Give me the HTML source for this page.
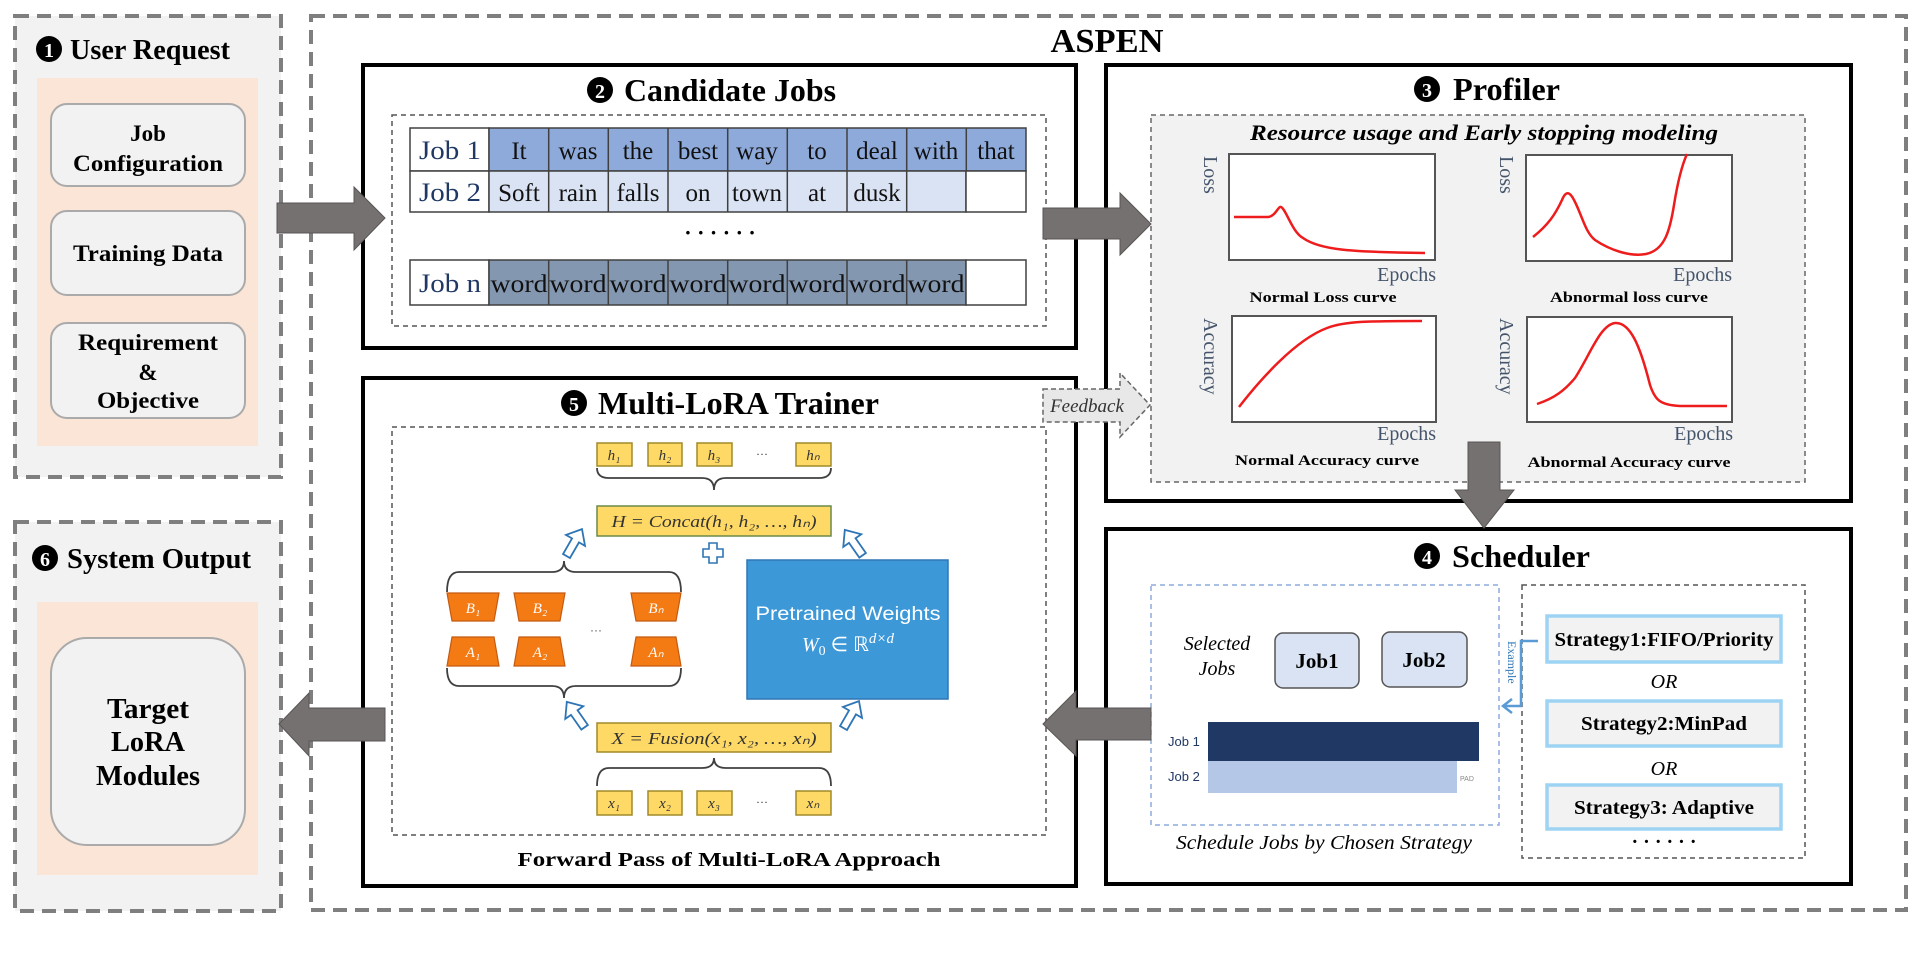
<!DOCTYPE html>
<html><head><meta charset="utf-8"><style>
html,body{margin:0;padding:0;background:#fff;width:1918px;height:957px;overflow:hidden}
svg{display:block}
.t{font-family:"Liberation Serif",serif}
.b{font-weight:bold}
.s{font-family:"Liberation Sans",sans-serif}
</style></head><body>
<svg width="1918" height="957" viewBox="0 0 1918 957" xmlns="http://www.w3.org/2000/svg">
<defs>
<g id="hollow"><polygon points="0,-16 11,-3 4,-3 4,15 -4,15 -4,-3 -11,-3" fill="#fff" stroke="#2e75b6" stroke-width="1.8"/></g>
</defs>

<!-- User Request -->
<rect x="15" y="16" width="266" height="461" fill="#f2f2f2" stroke="#7f7f7f" stroke-width="4" stroke-dasharray="14,8"/>
<circle cx="49" cy="49" r="13" fill="#000"/><text x="49" y="57" class="t b" font-size="20" fill="#fff" text-anchor="middle">1</text>
<text x="70" y="59" class="t b" font-size="28" textLength="160" lengthAdjust="spacingAndGlyphs">User Request</text>
<rect x="37" y="78" width="221" height="368" fill="#fbe5d6"/>
<rect x="51" y="104" width="194" height="82" rx="16" fill="#f2f2f2" stroke="#aaa" stroke-width="2"/>
<rect x="51" y="211" width="194" height="84" rx="16" fill="#f2f2f2" stroke="#aaa" stroke-width="2"/>
<rect x="51" y="323" width="194" height="95" rx="16" fill="#f2f2f2" stroke="#aaa" stroke-width="2"/>
<g class="t b" font-size="23" text-anchor="middle">
<text x="148" y="141">Job</text><text x="148" y="171" textLength="150" lengthAdjust="spacingAndGlyphs">Configuration</text>
<text x="148" y="261" textLength="150" lengthAdjust="spacingAndGlyphs">Training Data</text>
<text x="148" y="350" textLength="140" lengthAdjust="spacingAndGlyphs">Requirement</text><text x="148" y="380">&amp;</text><text x="148" y="408" textLength="102" lengthAdjust="spacingAndGlyphs">Objective</text>
</g>

<!-- System Output -->
<rect x="15" y="522" width="266" height="389" fill="#f2f2f2" stroke="#7f7f7f" stroke-width="4" stroke-dasharray="14,8"/>
<circle cx="45" cy="558" r="13" fill="#000"/><text x="45" y="566" class="t b" font-size="20" fill="#fff" text-anchor="middle">6</text>
<text x="67" y="568" class="t b" font-size="28" textLength="184" lengthAdjust="spacingAndGlyphs">System Output</text>
<rect x="37" y="602" width="221" height="273" fill="#fbe5d6"/>
<rect x="51" y="638" width="194" height="207" rx="36" fill="#f2f2f2" stroke="#aaa" stroke-width="2"/>
<g class="t b" font-size="28" text-anchor="middle">
<text x="148" y="718" textLength="82" lengthAdjust="spacingAndGlyphs">Target</text>
<text x="148" y="751" textLength="74" lengthAdjust="spacingAndGlyphs">LoRA</text>
<text x="148" y="785" textLength="104" lengthAdjust="spacingAndGlyphs">Modules</text>
</g>

<!-- ASPEN -->
<rect x="311" y="16" width="1595" height="894" fill="none" stroke="#7f7f7f" stroke-width="4" stroke-dasharray="14,8"/>
<text x="1107" y="52" class="t b" font-size="34" text-anchor="middle" textLength="113" lengthAdjust="spacingAndGlyphs">ASPEN</text>

<!-- Candidate Jobs -->
<rect x="363" y="65" width="713" height="283" fill="#fff" stroke="#000" stroke-width="4"/>
<circle cx="600" cy="90" r="13" fill="#000"/><text x="600" y="98" class="t b" font-size="20" fill="#fff" text-anchor="middle">2</text>
<text x="624" y="101" class="t b" font-size="32" textLength="212" lengthAdjust="spacingAndGlyphs">Candidate Jobs</text>
<rect x="392" y="115" width="654" height="211" fill="none" stroke="#555" stroke-width="1.5" stroke-dasharray="5,4"/>
<g stroke="#404040" stroke-width="1.5">
<rect x="410" y="128" width="79" height="43" fill="#fff"/>
<rect x="410" y="171" width="79" height="41" fill="#fff"/>
<rect x="410" y="260" width="79" height="45" fill="#fff"/>
</g>
<g stroke="#404040" stroke-width="1.5">
<rect x="489" y="128" width="537" height="43" fill="#8eaadb"/>
<rect x="489" y="171" width="477" height="41" fill="#dae3f3"/>
<rect x="966" y="171" width="60" height="41" fill="#fff"/>
<rect x="489" y="260" width="477" height="45" fill="#8497b0"/>
<rect x="966" y="260" width="60" height="45" fill="#fff"/>
<path d="M548.7,128V212M608.3,128V212M668,128V212M727.7,128V212M787.3,128V212M847,128V212M906.7,128V212M966.3,128V171M548.7,260V305M608.3,260V305M668,260V305M727.7,260V305M787.3,260V305M847,260V305M906.7,260V305" fill="none"/>
</g>
<g class="t" font-size="26" fill="#1f3864" text-anchor="middle">
<text x="450" y="159" textLength="62" lengthAdjust="spacingAndGlyphs">Job 1</text>
<text x="450" y="201" textLength="62" lengthAdjust="spacingAndGlyphs">Job 2</text>
<text x="450" y="292" textLength="62" lengthAdjust="spacingAndGlyphs">Job n</text>
</g>
<g class="t" font-size="25" text-anchor="middle" fill="#111">
<text x="519" y="159">It</text><text x="578" y="159">was</text><text x="638" y="159">the</text><text x="698" y="159">best</text><text x="757" y="159">way</text><text x="817" y="159">to</text><text x="877" y="159">deal</text><text x="936" y="159">with</text><text x="996" y="159">that</text>
<text x="519" y="201">Soft</text><text x="578" y="201">rain</text><text x="638" y="201">falls</text><text x="698" y="201">on</text><text x="757" y="201">town</text><text x="817" y="201">at</text><text x="877" y="201">dusk</text>
</g>
<g class="t" font-size="25" text-anchor="middle" fill="#111">
<text x="519" y="292" textLength="57" lengthAdjust="spacingAndGlyphs">word</text><text x="578" y="292" textLength="57" lengthAdjust="spacingAndGlyphs">word</text><text x="638" y="292" textLength="57" lengthAdjust="spacingAndGlyphs">word</text><text x="698" y="292" textLength="57" lengthAdjust="spacingAndGlyphs">word</text><text x="757" y="292" textLength="57" lengthAdjust="spacingAndGlyphs">word</text><text x="817" y="292" textLength="57" lengthAdjust="spacingAndGlyphs">word</text><text x="877" y="292" textLength="57" lengthAdjust="spacingAndGlyphs">word</text><text x="936" y="292" textLength="57" lengthAdjust="spacingAndGlyphs">word</text>
</g>
<text x="720" y="240" class="t b" font-size="22" text-anchor="middle">· · · · · ·</text>

<!-- Profiler -->
<rect x="1106" y="65" width="745" height="436" fill="#fff" stroke="#000" stroke-width="4"/>
<circle cx="1427" cy="89" r="13" fill="#000"/><text x="1427" y="97" class="t b" font-size="20" fill="#fff" text-anchor="middle">3</text>
<text x="1453" y="100" class="t b" font-size="32" textLength="107" lengthAdjust="spacingAndGlyphs">Profiler</text>
<rect x="1151" y="115" width="654" height="367" fill="#f2f2f2" stroke="#666" stroke-width="1.5" stroke-dasharray="5,4"/>
<text x="1484" y="140" class="t b" font-style="italic" font-size="22" text-anchor="middle" textLength="468" lengthAdjust="spacingAndGlyphs">Resource usage and Early stopping modeling</text>
<g fill="#fff" stroke="#555" stroke-width="2">
<rect x="1229" y="154" width="206" height="106"/>
<rect x="1526" y="155" width="206" height="106"/>
<rect x="1232" y="316" width="204" height="106"/>
<rect x="1527" y="317" width="205" height="105"/>
</g>
<g fill="none" stroke="#ee1c1c" stroke-width="2.5">
<path d="M1234,217 L1268,217 C1276,216 1278,206 1281,207 C1286,209 1292,232 1303,238 C1320,250 1350,252 1425,253"/>
<path d="M1533,237 C1548,225 1555,215 1562,200 C1566,190 1570,192 1574,200 C1582,215 1585,232 1595,240 C1610,250 1630,257 1646,254 C1665,250 1670,230 1674,205 C1678,180 1682,165 1687,154"/>
<path d="M1239,407 C1260,380 1295,340 1327,328 C1345,321 1370,321 1422,321"/>
<path d="M1537,404 C1555,398 1565,390 1575,378 C1590,355 1600,325 1615,323 C1630,322 1640,345 1650,385 C1655,400 1660,405 1680,406 L1727,406"/>
</g>
<g class="t" fill="#44546a" font-size="20">
<text x="1436" y="281" text-anchor="end">Epochs</text>
<text x="1732" y="281" text-anchor="end">Epochs</text>
<text x="1436" y="440" text-anchor="end">Epochs</text>
<text x="1733" y="440" text-anchor="end">Epochs</text>
<text transform="translate(1204,156) rotate(90)" font-size="20">Loss</text>
<text transform="translate(1500,156) rotate(90)" font-size="20">Loss</text>
<text transform="translate(1204,318) rotate(90)" font-size="20">Accuracy</text>
<text transform="translate(1500,318) rotate(90)" font-size="20">Accuracy</text>
</g>
<g class="t b" font-size="15" text-anchor="middle">
<text x="1323" y="302" textLength="147" lengthAdjust="spacingAndGlyphs">Normal Loss curve</text>
<text x="1629" y="302" textLength="158" lengthAdjust="spacingAndGlyphs">Abnormal loss curve</text>
<text x="1327" y="465" textLength="184" lengthAdjust="spacingAndGlyphs">Normal Accuracy curve</text>
<text x="1629" y="467" textLength="203" lengthAdjust="spacingAndGlyphs">Abnormal Accuracy curve</text>
</g>

<!-- Scheduler -->
<rect x="1106" y="529" width="745" height="355" fill="#fff" stroke="#000" stroke-width="4"/>
<circle cx="1427" cy="556" r="13" fill="#000"/><text x="1427" y="564" class="t b" font-size="20" fill="#fff" text-anchor="middle">4</text>
<text x="1452" y="567" class="t b" font-size="32" textLength="138" lengthAdjust="spacingAndGlyphs">Scheduler</text>
<rect x="1151" y="585" width="348" height="240" fill="#fff" stroke="#8eaadb" stroke-width="1.5" stroke-dasharray="5,4"/>
<text x="1217" y="650" class="t" font-style="italic" font-size="20" text-anchor="middle">Selected</text>
<text x="1217" y="675" class="t" font-style="italic" font-size="20" text-anchor="middle">Jobs</text>
<rect x="1275" y="633" width="84" height="55" rx="8" fill="#dae3f3" stroke="#555" stroke-width="1.5"/>
<rect x="1382" y="632" width="85" height="55" rx="8" fill="#dae3f3" stroke="#555" stroke-width="1.5"/>
<text x="1317" y="668" class="t b" font-size="21" text-anchor="middle">Job1</text>
<text x="1424" y="667" class="t b" font-size="21" text-anchor="middle">Job2</text>
<rect x="1208" y="722" width="271" height="39" fill="#203864"/>
<rect x="1208" y="761" width="249" height="32" fill="#b4c7e7"/>
<text x="1168" y="746" class="s" font-size="13" fill="#1f3864">Job 1</text>
<text x="1168" y="781" class="s" font-size="13" fill="#1f3864">Job 2</text>
<text x="1460" y="781" class="s" font-size="7" fill="#888">PAD</text>
<text x="1324" y="849" class="t" font-style="italic" font-size="20" text-anchor="middle" textLength="296" lengthAdjust="spacingAndGlyphs">Schedule Jobs by Chosen Strategy</text>
<rect x="1522" y="585" width="283" height="273" fill="#fff" stroke="#555" stroke-width="1.5" stroke-dasharray="5,4"/>
<g fill="#f2f2f2" stroke="#9dd3f3" stroke-width="3.5">
<rect x="1547" y="616" width="234" height="46"/>
<rect x="1547" y="701" width="234" height="45"/>
<rect x="1547" y="785" width="234" height="44"/>
</g>
<g class="t b" font-size="20" text-anchor="middle">
<text x="1664" y="646" textLength="219" lengthAdjust="spacingAndGlyphs">Strategy1:FIFO/Priority</text>
<text x="1664" y="730" textLength="166" lengthAdjust="spacingAndGlyphs">Strategy2:MinPad</text>
<text x="1664" y="814" textLength="180" lengthAdjust="spacingAndGlyphs">Strategy3: Adaptive</text>
</g>
<text x="1664" y="688" class="t" font-style="italic" font-size="20" text-anchor="middle">OR</text>
<text x="1664" y="775" class="t" font-style="italic" font-size="20" text-anchor="middle">OR</text>
<text x="1664" y="848" class="t b" font-size="20" text-anchor="middle">· · · · · ·</text>
<path d="M1538,641 H1521 V706 H1504 M1512,699 L1503,706 L1512,713" fill="none" stroke="#5b9bd5" stroke-width="2.5"/>
<text transform="translate(1508,641) rotate(90)" class="t" font-size="12" fill="#2e75b6">Example</text>

<!-- Multi-LoRA Trainer -->
<rect x="363" y="378" width="713" height="508" fill="#fff" stroke="#000" stroke-width="4"/>
<circle cx="574" cy="403" r="13" fill="#000"/><text x="574" y="411" class="t b" font-size="20" fill="#fff" text-anchor="middle">5</text>
<text x="598" y="414" class="t b" font-size="32" textLength="281" lengthAdjust="spacingAndGlyphs">Multi-LoRA Trainer</text>
<rect x="392" y="427" width="654" height="408" fill="#fff" stroke="#555" stroke-width="1.5" stroke-dasharray="5,4"/>
<text x="729" y="866" class="t b" font-size="20" text-anchor="middle" textLength="423" lengthAdjust="spacingAndGlyphs">Forward Pass of Multi-LoRA Approach</text>
<g fill="#ffd966" stroke="#a08a2a" stroke-width="1.5">
<rect x="597" y="443" width="35" height="23"/><rect x="648" y="443" width="34" height="23"/><rect x="697" y="443" width="35" height="23"/><rect x="796" y="443" width="35" height="23"/>
<rect x="597" y="506" width="234" height="30" stroke="#6a8a4a"/>
<rect x="597" y="723" width="234" height="29"/>
<rect x="597" y="791" width="35" height="24"/><rect x="648" y="791" width="34" height="24"/><rect x="697" y="791" width="35" height="24"/><rect x="796" y="791" width="35" height="24"/>
</g>
<g class="t" font-style="italic" font-size="15" fill="#333" text-anchor="middle">
<text x="614" y="460">h₁</text><text x="665" y="460">h₂</text><text x="714" y="460">h₃</text><text x="813" y="460">hₙ</text>
<text x="614" y="808">x₁</text><text x="665" y="808">x₂</text><text x="714" y="808">x₃</text><text x="813" y="808">xₙ</text>
<text x="762" y="458" font-style="normal" font-size="12">···</text><text x="762" y="806" font-style="normal" font-size="12">···</text>
<text x="714" y="527" font-size="17" textLength="205" lengthAdjust="spacingAndGlyphs">H = Concat(h₁, h₂, …, hₙ)</text>
<text x="714" y="744" font-size="17" textLength="205" lengthAdjust="spacingAndGlyphs">X = Fusion(x₁, x₂, …, xₙ)</text>
</g>
<g fill="none" stroke="#404040" stroke-width="1.8">
<path d="M597,468 q0,10 12,10 h93 q12,0 12,12 q0,-12 12,-12 h93 q12,0 12,-10"/>
<path d="M447,592 q0,-20 12,-20 h93 q12,0 12,-11 q0,11 12,11 h93 q12,0 12,20"/>
<path d="M447,668 q0,18 12,18 h93 q12,0 12,12 q0,-12 12,-12 h93 q12,0 12,-18"/>
<path d="M597,786 q0,-18 12,-18 h93 q12,0 12,-10 q0,10 12,10 h93 q12,0 12,18"/>
</g>
<g fill="#f47a14" stroke="#c55a11" stroke-width="1.2">
<polygon points="447,593 499,593 494,621 452,621"/><polygon points="514,593 565,593 560,621 519,621"/><polygon points="631,593 681,593 676,621 636,621"/>
<polygon points="452,637 494,637 499,666 447,666"/><polygon points="519,637 560,637 565,666 514,666"/><polygon points="636,637 676,637 681,666 631,666"/>
</g>
<g class="t" font-style="italic" font-size="15" fill="#fff" text-anchor="middle">
<text x="473" y="613">B₁</text><text x="540" y="613">B₂</text><text x="656" y="613">Bₙ</text>
<text x="473" y="657">A₁</text><text x="540" y="657">A₂</text><text x="656" y="657">Aₙ</text>
</g>
<text x="596" y="634" class="s" font-size="12" fill="#555" text-anchor="middle">···</text>
<rect x="747" y="560" width="201" height="139" fill="#3d98d8" stroke="#2e75b6" stroke-width="1.5"/>
<text x="848" y="620" class="s" font-size="19" fill="#fff" text-anchor="middle" textLength="185" lengthAdjust="spacingAndGlyphs">Pretrained Weights</text>
<text x="848" y="651" class="t" font-style="italic" font-size="20" fill="#fff" text-anchor="middle">W<tspan font-size="14" dy="4" font-style="normal">0</tspan><tspan dy="-4" font-style="normal"> ∈ ℝ</tspan><tspan dy="-8" font-size="15">d×d</tspan></text>
<use href="#hollow" transform="translate(574,543) rotate(30)"/>
<use href="#hollow" transform="translate(854,543) rotate(-35)"/>
<use href="#hollow" transform="translate(576,715) rotate(-35)"/>
<use href="#hollow" transform="translate(851,715) rotate(30)"/>
<polygon points="709,543 717,543 717,549 723,549 723,557 717,557 717,563 709,563 709,557 703,557 703,549 709,549" fill="#fff" stroke="#2e75b6" stroke-width="1.6"/>

<!-- Gray block arrows -->
<g fill="#767171" stroke="#5a5555" stroke-width="1">
<polygon points="277,203 354,203 354,187 385,218 354,250 354,233 277,233"/>
<polygon points="1043,208 1120,208 1120,193 1151,224 1120,255 1120,239 1043,239"/>
<polygon points="1468,442 1500,442 1500,490 1514,490 1484,528 1455,490 1468,490"/>
<polygon points="1151,708 1076,708 1076,691 1043,724 1076,756 1076,740 1151,740"/>
<polygon points="385,708 309,708 309,693 279,724 309,756 309,741 385,741"/>
</g>
<!-- Feedback arrow -->
<polygon points="1043,389 1120,389 1120,373 1150,405 1120,437 1120,422 1043,422" fill="#e8e8e8" stroke="#666" stroke-width="1.5" stroke-dasharray="5,3"/>
<text x="1087" y="412" class="t" font-style="italic" font-size="19" text-anchor="middle" fill="#333">Feedback</text>
</svg>
</body></html>
